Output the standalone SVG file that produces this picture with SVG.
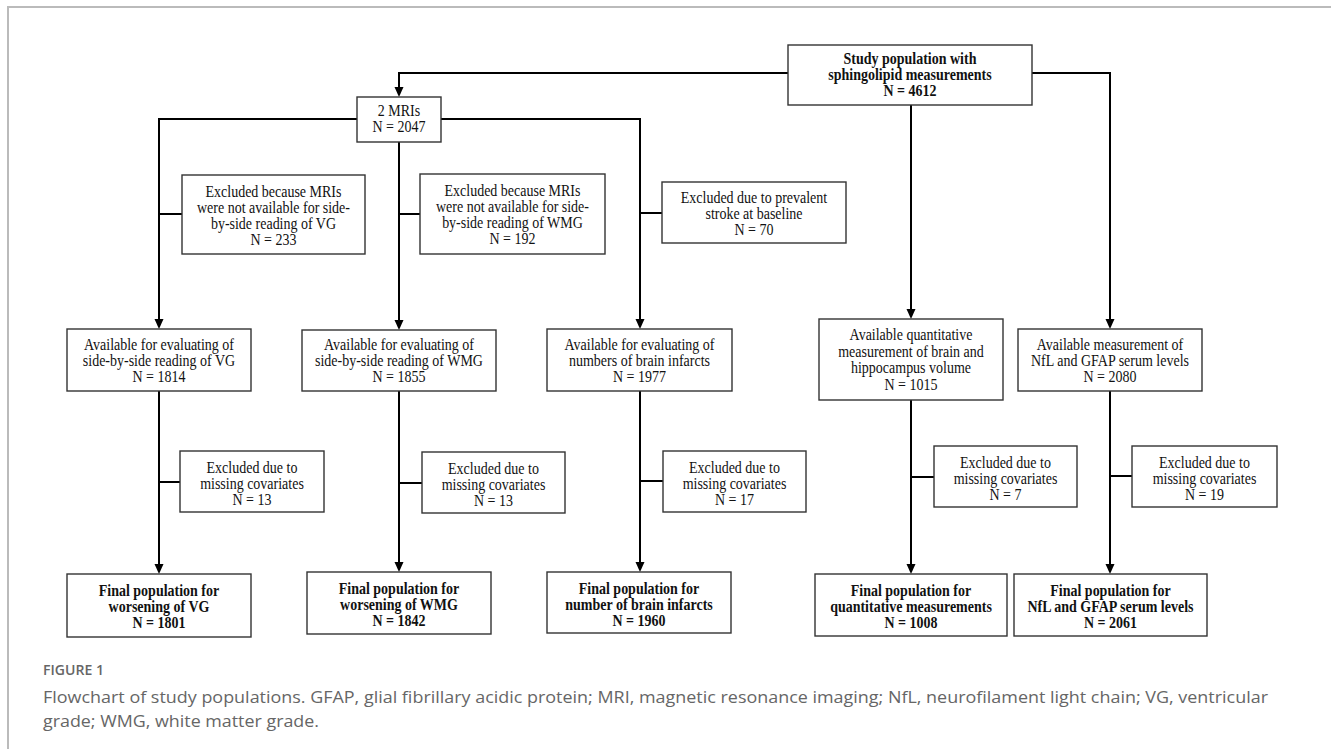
<svg xmlns="http://www.w3.org/2000/svg" width="1331" height="749" viewBox="0 0 1331 749">
<style>
.bx{fill:#fff;stroke:#333;stroke-width:1.4}
.t{font-family:"Liberation Serif","Times New Roman",serif;font-size:16px;fill:#111;text-anchor:middle}
.b{font-weight:bold}
.c{fill:none;stroke:#000;stroke-width:2}
.cap{font-family:"Open Sans","Liberation Sans",sans-serif;fill:#666}
</style>
<rect width="1331" height="749" fill="#fff"/>
<path d="M7,7 H1331 M8,7 V749" stroke="#bbb" stroke-width="2" fill="none"/>

<g id="connectors">
<path class="c" d="M788,73 H399 V88"/>
<path class="c" d="M1032,73 H1110 V320"/>
<path class="c" d="M911,105 V310"/>
<path class="c" d="M357,119 H159 V320"/>
<path class="c" d="M441,119 H640 V320"/>
<path class="c" d="M399,142 V321"/>
<path class="c" d="M159,214 H182 M399,214 H420 M640,213 H662"/>
<path class="c" d="M159,391 V565"/>
<path class="c" d="M399,391 V563"/>
<path class="c" d="M640,391 V563"/>
<path class="c" d="M911,400 V565"/>
<path class="c" d="M1110,391 V565"/>
<path class="c" d="M159,482 H180 M399,483 H422 M640,481 H663 M911,477 H934 M1110,476 H1132"/>
<g fill="#000">
<path d="M394.5,87 L403.5,87 L399,97 Z"/>
<path d="M1105.5,319 L1114.5,319 L1110,329 Z"/>
<path d="M906.5,309 L915.5,309 L911,319 Z"/>
<path d="M154.5,319 L163.5,319 L159,329 Z"/>
<path d="M635.5,319 L644.5,319 L640,329 Z"/>
<path d="M394.5,320 L403.5,320 L399,330 Z"/>
<path d="M154.5,564 L163.5,564 L159,574 Z"/>
<path d="M394.5,562 L403.5,562 L399,572 Z"/>
<path d="M635.5,562 L644.5,562 L640,572 Z"/>
<path d="M906.5,564 L915.5,564 L911,574 Z"/>
<path d="M1105.5,564 L1114.5,564 L1110,574 Z"/>
</g>
</g>

<g id="study">
<rect class="bx" x="788" y="45" width="244" height="60"/>
<g transform="matrix(0.875 0 0 1 113.75 0)">
<text class="t b" x="910" y="64.5">Study population with</text>
<text class="t b" x="910" y="80.5">sphingolipid measurements</text>
<text class="t b" x="910" y="96.5">N = 4612</text>
</g>
</g>
<g id="mri">
<rect class="bx" x="357" y="97" width="84" height="45"/>
<g transform="matrix(0.875 0 0 1 49.875 0)">
<text class="t" x="399" y="116.5">2 MRIs</text>
<text class="t" x="399" y="132.5">N = 2047</text>
</g>
</g>
<g id="excl1">
<rect class="bx" x="182" y="175" width="183" height="79"/>
<g transform="matrix(0.875 0 0 1 34.1875 0)">
<text class="t" x="273.5" y="197.5">Excluded because MRIs</text>
<text class="t" x="273.5" y="213.5">were not available for side-</text>
<text class="t" x="273.5" y="229.5">by-side reading of VG</text>
<text class="t" x="273.5" y="245.5">N = 233</text>
</g>
</g>
<g id="excl2">
<rect class="bx" x="420" y="174" width="185" height="80"/>
<g transform="matrix(0.875 0 0 1 64.0625 0)">
<text class="t" x="512.5" y="196.5">Excluded because MRIs</text>
<text class="t" x="512.5" y="212.5">were not available for side-</text>
<text class="t" x="512.5" y="228.5">by-side reading of WMG</text>
<text class="t" x="512.5" y="244.5">N = 192</text>
</g>
</g>
<g id="excl3">
<rect class="bx" x="662" y="182" width="184" height="61"/>
<g transform="matrix(0.875 0 0 1 94.25 0)">
<text class="t" x="754" y="203.5">Excluded due to prevalent</text>
<text class="t" x="754" y="219.5">stroke at baseline</text>
<text class="t" x="754" y="235.5">N = 70</text>
</g>
</g>
<g id="avail1">
<rect class="bx" x="67" y="329" width="184" height="62"/>
<g transform="matrix(0.875 0 0 1 19.875 0)">
<text class="t" x="159" y="350.5">Available for evaluating of</text>
<text class="t" x="159" y="366.5">side-by-side reading of VG</text>
<text class="t" x="159" y="382.5">N = 1814</text>
</g>
</g>
<g id="avail2">
<rect class="bx" x="302" y="330" width="194" height="61"/>
<g transform="matrix(0.875 0 0 1 49.875 0)">
<text class="t" x="399" y="350.5">Available for evaluating of</text>
<text class="t" x="399" y="366.5">side-by-side reading of WMG</text>
<text class="t" x="399" y="382.5">N = 1855</text>
</g>
</g>
<g id="avail3">
<rect class="bx" x="547" y="329" width="185" height="62"/>
<g transform="matrix(0.875 0 0 1 79.9375 0)">
<text class="t" x="639.5" y="350.5">Available for evaluating of</text>
<text class="t" x="639.5" y="366.5">numbers of brain infarcts</text>
<text class="t" x="639.5" y="382.5">N = 1977</text>
</g>
</g>
<g id="avail4">
<rect class="bx" x="819" y="319" width="184" height="81"/>
<g transform="matrix(0.875 0 0 1 113.875 0)">
<text class="t" x="911" y="340.5">Available quantitative</text>
<text class="t" x="911" y="357">measurement of brain and</text>
<text class="t" x="911" y="373.5">hippocampus volume</text>
<text class="t" x="911" y="390">N = 1015</text>
</g>
</g>
<g id="avail5">
<rect class="bx" x="1018" y="329" width="184" height="62"/>
<g transform="matrix(0.875 0 0 1 138.75 0)">
<text class="t" x="1110" y="350.5">Available measurement of</text>
<text class="t" x="1110" y="366.5">NfL and GFAP serum levels</text>
<text class="t" x="1110" y="382.5">N = 2080</text>
</g>
</g>
<g id="cov1">
<rect class="bx" x="180" y="451" width="144" height="61"/>
<g transform="matrix(0.875 0 0 1 31.5 0)">
<text class="t" x="252" y="473.5">Excluded due to</text>
<text class="t" x="252" y="489.5">missing covariates</text>
<text class="t" x="252" y="505.5">N = 13</text>
</g>
</g>
<g id="cov2">
<rect class="bx" x="422" y="452" width="143" height="61"/>
<g transform="matrix(0.875 0 0 1 61.6875 0)">
<text class="t" x="493.5" y="474.5">Excluded due to</text>
<text class="t" x="493.5" y="490.5">missing covariates</text>
<text class="t" x="493.5" y="506.5">N = 13</text>
</g>
</g>
<g id="cov3">
<rect class="bx" x="663" y="451" width="143" height="61"/>
<g transform="matrix(0.875 0 0 1 91.8125 0)">
<text class="t" x="734.5" y="473.5">Excluded due to</text>
<text class="t" x="734.5" y="489.5">missing covariates</text>
<text class="t" x="734.5" y="505.5">N = 17</text>
</g>
</g>
<g id="cov4">
<rect class="bx" x="934" y="446" width="143" height="61"/>
<g transform="matrix(0.875 0 0 1 125.6875 0)">
<text class="t" x="1005.5" y="468.5">Excluded due to</text>
<text class="t" x="1005.5" y="484.5">missing covariates</text>
<text class="t" x="1005.5" y="500.5">N = 7</text>
</g>
</g>
<g id="cov5">
<rect class="bx" x="1132" y="446" width="145" height="61"/>
<g transform="matrix(0.875 0 0 1 150.5625 0)">
<text class="t" x="1204.5" y="468.5">Excluded due to</text>
<text class="t" x="1204.5" y="484.5">missing covariates</text>
<text class="t" x="1204.5" y="500.5">N = 19</text>
</g>
</g>
<g id="final1">
<rect class="bx" x="67" y="574" width="184" height="63"/>
<g transform="matrix(0.875 0 0 1 19.875 0)">
<text class="t b" x="159" y="596.5">Final population for</text>
<text class="t b" x="159" y="612.5">worsening of VG</text>
<text class="t b" x="159" y="628.5">N = 1801</text>
</g>
</g>
<g id="final2">
<rect class="bx" x="307" y="572" width="184" height="62"/>
<g transform="matrix(0.875 0 0 1 49.875 0)">
<text class="t b" x="399" y="594.5">Final population for</text>
<text class="t b" x="399" y="610.5">worsening of WMG</text>
<text class="t b" x="399" y="626.5">N = 1842</text>
</g>
</g>
<g id="final3">
<rect class="bx" x="547" y="572" width="184" height="61"/>
<g transform="matrix(0.875 0 0 1 79.875 0)">
<text class="t b" x="639" y="594.5">Final population for</text>
<text class="t b" x="639" y="610.5">number of brain infarcts</text>
<text class="t b" x="639" y="626.5">N = 1960</text>
</g>
</g>
<g id="final4">
<rect class="bx" x="815" y="574" width="192" height="62"/>
<g transform="matrix(0.875 0 0 1 113.875 0)">
<text class="t b" x="911" y="596.5">Final population for</text>
<text class="t b" x="911" y="612.5">quantitative measurements</text>
<text class="t b" x="911" y="628.5">N = 1008</text>
</g>
</g>
<g id="final5">
<rect class="bx" x="1014" y="574" width="193" height="62"/>
<g transform="matrix(0.875 0 0 1 138.8125 0)">
<text class="t b" x="1110.5" y="596.5">Final population for</text>
<text class="t b" x="1110.5" y="612.5">NfL and GFAP serum levels</text>
<text class="t b" x="1110.5" y="628.5">N = 2061</text>
</g>
</g>

<g id="caption">
<text class="cap" x="43" y="675" font-size="14" font-weight="600" fill="#777" textLength="61" lengthAdjust="spacingAndGlyphs">FIGURE 1</text>
<text class="cap" x="43" y="703" font-size="17" textLength="1225" lengthAdjust="spacingAndGlyphs">Flowchart of study populations. GFAP, glial fibrillary acidic protein; MRI, magnetic resonance imaging; NfL, neurofilament light chain; VG, ventricular</text>
<text class="cap" x="43" y="727" font-size="17" textLength="276" lengthAdjust="spacingAndGlyphs">grade; WMG, white matter grade.</text>
</g>
</svg>
